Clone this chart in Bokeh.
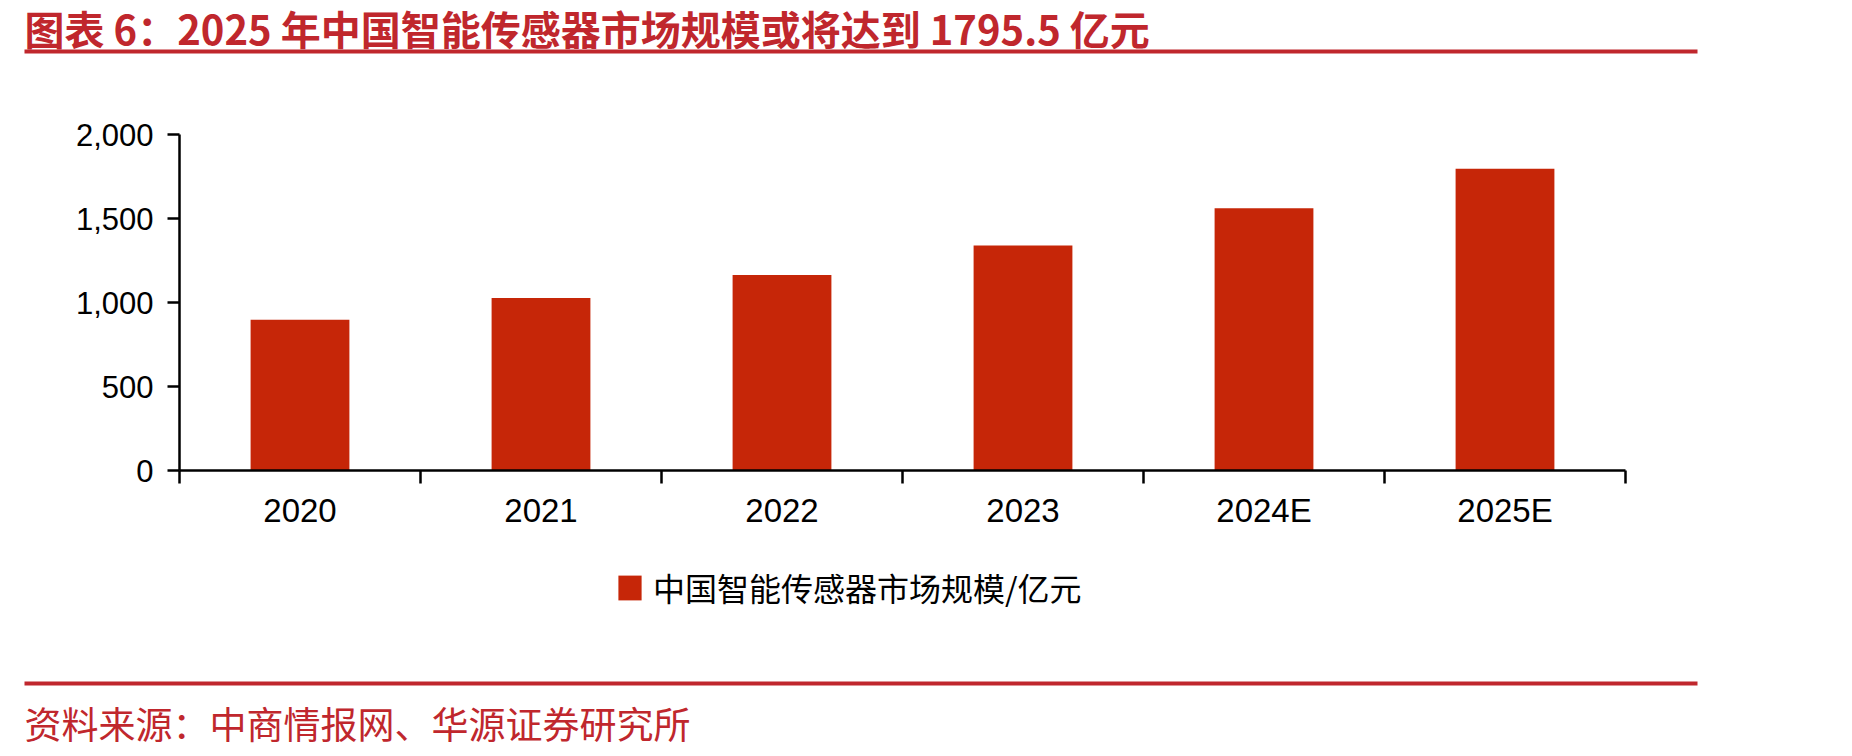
from bokeh.plotting import figure
from bokeh.models import (Range1d, FixedTicker, NumeralTickFormatter, Legend, LegendItem,
                          Label, BoxAnnotation)
from bokeh.embed import file_html
from bokeh.resources import INLINE

# 中国智能传感器市场规模（亿元）
years = ["2020", "2021", "2022", "2023", "2024E", "2025E"]
market_size = [898, 1027, 1163, 1340, 1561, 1795.5]
y_ticks = [0, 500, 1000, 1500, 2000]

title_text = "图表 6：2025 年中国智能传感器市场规模或将达到 1795.5 亿元"
series_name = "中国智能传感器市场规模/亿元"
source_text = "资料来源：中商情报网、华源证券研究所"

BAR = "#C62608"
RED = "#C0272D"

# page geometry (pixels)
W, H = 1852, 756
PLOT_L, PLOT_R = 179, 1625      # x of first / last category boundary
PLOT_T, PLOT_B = 134, 470       # y of 2000 / 0
Y_MAX = 2000

n = len(years)
ux = (PLOT_R - PLOT_L) / n            # px per category
uy = (PLOT_B - PLOT_T) / Y_MAX        # px per unit
x_range = Range1d(-PLOT_L / ux, n + (W - PLOT_R) / ux)
y_range = Range1d(-(H - PLOT_B) / uy, Y_MAX + PLOT_T / uy)

centers = [i + 0.5 for i in range(n)]

p = figure(width=W, height=H, min_border=0, x_range=x_range, y_range=y_range,
           output_backend="svg", toolbar_location=None, tools="")
p.title.visible = False
p.outline_line_color = None
p.xgrid.visible = False
p.ygrid.visible = False
p.background_fill_color = "white"
p.border_fill_color = "white"

bars = p.vbar(x=centers, top=market_size, width=0.41, bottom=0,
              fill_color=BAR, line_color=None)

# x axis: labels at category centres, tick marks at category boundaries
xa = p.xaxis[0]
xa.fixed_location = 0
xa.bounds = (0, n)
xa.ticker = FixedTicker(ticks=centers, minor_ticks=list(range(n + 1)))
xa.major_label_overrides = {c: y for c, y in zip(centers, years)}
xa.major_tick_out = 0
xa.major_tick_in = 0
xa.minor_tick_out = 13
xa.minor_tick_in = 0
xa.minor_tick_line_width = 2.5
xa.minor_tick_line_color = "black"
xa.axis_line_width = 2.5
xa.axis_line_color = "black"
xa.major_label_standoff = 8
xa.major_label_text_font = "Liberation Sans"
xa.major_label_text_font_size = "33px"
xa.major_label_text_color = "black"

ya = p.yaxis[0]
ya.fixed_location = 0
ya.bounds = (0, Y_MAX)
ya.ticker = FixedTicker(ticks=y_ticks)
ya.formatter = NumeralTickFormatter(format="0,0")
ya.major_tick_out = 12
ya.major_tick_in = 0
ya.major_tick_line_width = 2.5
ya.major_tick_line_color = "black"
ya.minor_tick_line_color = None
ya.axis_line_width = 2.5
ya.axis_line_color = "black"
ya.major_label_standoff = 14
ya.major_label_text_font = "Liberation Sans"
ya.major_label_text_font_size = "31px"
ya.major_label_text_color = "black"

# legend swatch is drawn inset by 10% on each side of the glyph box
legend = Legend(items=[LegendItem(label=series_name, renderers=[bars])],
                location=(615, 146), orientation="horizontal",
                padding=0, margin=0, spacing=0,
                border_line_alpha=0, background_fill_alpha=0,
                glyph_width=29, glyph_height=31, label_height=31, label_standoff=9,
                label_text_font="Noto Sans CJK SC", label_text_font_size="32px",
                label_text_color="black", label_text_baseline="middle")
p.add_layout(legend, "center")

# header: title and red rule (screen units measured from the bottom-left corner)
p.add_layout(Label(x=24, y=H - 27, x_units="screen", y_units="screen", text=title_text,
                   text_font="Noto Sans CJK SC", text_font_style="bold",
                   text_font_size="40px", text_color=RED, text_baseline="middle"))
p.add_layout(BoxAnnotation(left=24, right=1697, top=H - 49, bottom=H - 53,
                           left_units="screen", right_units="screen",
                           top_units="screen", bottom_units="screen",
                           fill_color=RED, fill_alpha=1, line_color=None))

# footer: red rule and source note
p.add_layout(BoxAnnotation(left=24, right=1697, top=H - 681, bottom=H - 685,
                           left_units="screen", right_units="screen",
                           top_units="screen", bottom_units="screen",
                           fill_color=RED, fill_alpha=1, line_color=None))
p.add_layout(Label(x=24, y=H - 722, x_units="screen", y_units="screen", text=source_text,
                   text_font="Noto Sans CJK SC", text_font_size="37px",
                   text_color=RED, text_baseline="middle"))

open("out.html", "w").write(file_html(p, INLINE))
